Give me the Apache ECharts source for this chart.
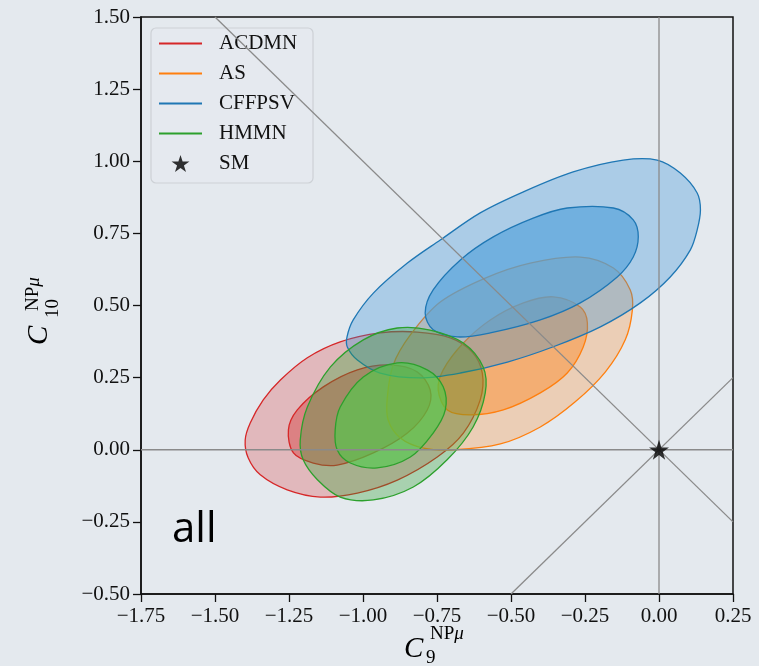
<!DOCTYPE html>
<html><head><meta charset="utf-8">
<script src="https://cdn.jsdelivr.net/npm/echarts@6/dist/echarts.min.js"></script>
<style>html,body{margin:0;padding:0;background:#e4e9ee;}#c{width:759px;height:666px;}</style>
</head><body><div id="c"></div>
<script>
// ---------- data ----------
const xRange = [-1.75, 0.25];
const yRange = [-0.5, 1.5];
const tickStep = 0.25;
const groupNames = ['ACDMN', 'AS', 'CFFPSV', 'HMMN'];

const acdmnOuter = [[-1.398,0.034],[-1.381,0.093],[-1.337,0.173],[-1.279,0.242],[-1.188,0.319],[-1.077,0.374],[-0.942,0.405],[-0.817,0.408],[-0.705,0.388],[-0.631,0.339],[-0.597,0.266],[-0.604,0.173],[-0.661,0.058],[-0.749,-0.025],[-0.884,-0.105],[-1.019,-0.150],[-1.144,-0.164],[-1.256,-0.139],[-1.347,-0.087],[-1.388,-0.028]];
const acdmnInner = [[-1.252,0.069],[-1.222,0.138],[-1.134,0.218],[-1.019,0.277],[-0.908,0.294],[-0.817,0.270],[-0.773,0.207],[-0.783,0.138],[-0.850,0.058],[-0.965,-0.011],[-1.087,-0.053],[-1.168,-0.046],[-1.235,-0.011]];
const asOuter = [[-0.266,0.668],[-0.154,0.630],[-0.097,0.554],[-0.090,0.484],[-0.114,0.381],[-0.181,0.270],[-0.283,0.166],[-0.401,0.079],[-0.536,0.020],[-0.688,0.000],[-0.796,0.006],[-0.874,0.041],[-0.915,0.103],[-0.918,0.180],[-0.898,0.294],[-0.840,0.398],[-0.739,0.512],[-0.587,0.595],[-0.435,0.647]];
const asInner = [[-0.357,0.530],[-0.266,0.495],[-0.242,0.440],[-0.256,0.356],[-0.310,0.266],[-0.401,0.197],[-0.526,0.138],[-0.637,0.121],[-0.715,0.138],[-0.746,0.207],[-0.729,0.277],[-0.661,0.370],[-0.570,0.450],[-0.458,0.509]];
const cffpsvOuter = [[-1.053,0.356],[-1.054,0.391],[-1.033,0.450],[-0.965,0.543],[-0.850,0.647],[-0.739,0.727],[-0.604,0.821],[-0.458,0.894],[-0.290,0.963],[-0.121,1.004],[-0.006,1.004],[0.072,0.959],[0.129,0.890],[0.140,0.831],[0.129,0.762],[0.106,0.693],[0.038,0.599],[-0.063,0.509],[-0.198,0.426],[-0.357,0.357],[-0.512,0.304],[-0.671,0.266],[-0.806,0.249],[-0.942,0.266],[-1.019,0.311]];
const cffpsvInner = [[-0.790,0.474],[-0.763,0.554],[-0.671,0.658],[-0.560,0.738],[-0.425,0.803],[-0.310,0.838],[-0.154,0.838],[-0.087,0.797],[-0.070,0.738],[-0.087,0.668],[-0.141,0.599],[-0.266,0.509],[-0.401,0.450],[-0.570,0.405],[-0.681,0.391],[-0.763,0.416]];
const hmmnOuter = [[-1.212,0.034],[-1.188,0.148],[-1.110,0.287],[-0.999,0.381],[-0.884,0.422],[-0.773,0.415],[-0.661,0.370],[-0.594,0.287],[-0.587,0.197],[-0.628,0.079],[-0.715,-0.034],[-0.830,-0.129],[-0.965,-0.174],[-1.077,-0.164],[-1.154,-0.104],[-1.202,-0.035]];
const hmmnInner = [[-1.094,0.069],[-1.077,0.148],[-0.999,0.252],[-0.884,0.301],[-0.783,0.277],[-0.729,0.218],[-0.722,0.138],[-0.763,0.058],[-0.840,-0.025],[-0.952,-0.063],[-1.043,-0.046],[-1.087,-0.001]];

const smPoint = [[0, 0]];
const lineNegDiag = [[-1.5, 1.5], [0.25, -0.25]];
const linePosDiag = [[-0.5, -0.5], [0.25, 0.25]];
const lineVertical = [[0, -0.5], [0, 1.5]];
const lineHorizontal = [[-1.75, 0], [0.25, 0]];

// ---------- styles ----------
const contours = {
  ACDMN: [acdmnOuter, acdmnInner],
  AS: [asOuter, asInner],
  CFFPSV: [cffpsvOuter, cffpsvInner],
  HMMN: [hmmnOuter, hmmnInner]
};
const styleMap = {
  ACDMN:  {edge:'#d62728', fills:['rgba(214,39,40,0.25)','rgba(214,39,40,0.38)']},
  AS:     {edge:'#ff7f0e', fills:['rgba(255,127,14,0.25)','rgba(255,127,14,0.40)']},
  CFFPSV: {edge:'#1f77b4', fills:['rgba(40,140,215,0.30)','rgba(81,161,218,0.65)']},
  HMMN:   {edge:'#2ca02c', fills:['rgba(44,160,44,0.32)','rgba(77,206,73,0.60)']}
};
const starPath = 'path://M0,-10L2.245,-3.09L9.511,-3.09L3.633,1.18L5.878,8.09L0,3.82L-5.878,8.09L-3.633,1.18L-9.511,-3.09L-2.245,-3.09Z';
const legendLine = 'path://M0,0L43,0L43,1.8L0,1.8Z';
const serif = '"Liberation Serif", "DejaVu Serif", serif';
const fmt = v => (v < -1e-9 ? '\u2212' : '') + Math.abs(v).toFixed(2);

const chart = echarts.init(document.getElementById('c'), null, {renderer:'canvas'});

const contourSeries = groupNames.map(name => ({
  type: 'custom', name: name, coordinateSystem: 'cartesian2d', clip: true, silent: true,
  itemStyle: {color: styleMap[name].edge},
  data: contours[name].map(c => c[0]),
  renderItem: (params, api) => {
    const poly = contours[name][params.dataIndex];
    const pts = poly.map(p => api.coord(p));
    return {
      type: 'polygon',
      shape: {points: pts, smooth: 0.33},
      style: {fill: styleMap[name].fills[params.dataIndex], stroke: styleMap[name].edge, lineWidth: 1.3}
    };
  }
}));

const refLine = d => ({
  type: 'line', data: d, symbol: 'none', silent: true, z: 5,
  lineStyle: {color: '#8a8a8a', width: 1.3}, animation: false
});

chart.setOption({
  animation: false,
  backgroundColor: '#e4e9ee',
  grid: {left: 141, right: 26, top: 17, bottom: 72, show: true, borderColor: '#111', borderWidth: 1.5, backgroundColor: 'transparent'},
  xAxis: {
    type: 'value', min: xRange[0], max: xRange[1], interval: tickStep,
    axisLine: {show: true, onZero: false, lineStyle: {color: '#111', width: 1.5}},
    axisTick: {show: true, length: 8, lineStyle: {color: '#111', width: 1.3}},
    splitLine: {show: false},
    axisLabel: {fontFamily: serif, fontSize: 21, lineHeight: 21, color: '#111', margin: 12, formatter: fmt, showMinLabel: true, showMaxLabel: true}
  },
  yAxis: {
    type: 'value', min: yRange[0], max: yRange[1], interval: tickStep,
    axisLine: {show: true, onZero: false, lineStyle: {color: '#111', width: 1.5}},
    axisTick: {show: true, length: 8, lineStyle: {color: '#111', width: 1.3}},
    splitLine: {show: false},
    axisLabel: {fontFamily: serif, fontSize: 21, color: '#111', margin: 11, formatter: fmt, showMinLabel: true, showMaxLabel: true}
  },
  legend: {
    orient: 'vertical', left: 151, top: 28, selectedMode: false,
    itemWidth: 43, itemHeight: 17, itemGap: 9,
    padding: [5, 9, 9, 8],
    backgroundColor: 'rgba(229,233,238,0.85)', borderColor: '#cdd1d6', borderWidth: 1.2, borderRadius: 5,
    textStyle: {fontFamily: serif, fontSize: 21, lineHeight: 20, color: '#111', padding: [0, 0, 0, 12], width: 85},
    data: groupNames.map(n => ({name: n, icon: legendLine, itemStyle: {color: styleMap[n].edge, borderWidth: 0}}))
      .concat([{name: 'SM', icon: starPath, itemStyle: {color: '#000', borderWidth: 0}}])
  },
  series: contourSeries.concat([
    refLine(lineNegDiag), refLine(linePosDiag), refLine(lineVertical), refLine(lineHorizontal),
    {type: 'scatter', name: 'SM', data: smPoint, symbol: starPath, symbolSize: 20, z: 10, silent: true,
     itemStyle: {color: '#000'}}
  ]),
  graphic: [
    {type: 'text', x: 172, y: 530, silent: true,
     style: {text: 'all', fontFamily: '"Open Sans", Lato, sans-serif', fontSize: 42, fill: '#000', verticalAlign: 'middle'}},
    {type: 'group', x: 404, y: 649, silent: true, children: [
      {type: 'text', x: 0, y: 0, style: {text: 'C', fontFamily: serif, fontStyle: 'italic', fontSize: 29, fill: '#000', verticalAlign: 'middle'}},
      {type: 'text', x: 22, y: 9, style: {text: '9', fontFamily: serif, fontSize: 19, fill: '#000', verticalAlign: 'middle'}},
      {type: 'text', x: 26, y: -15, style: {text: '{a|NP}{b|\u03bc}', fontFamily: serif, fontSize: 19, fill: '#000', verticalAlign: 'middle',
        rich: {a: {fontFamily: serif, fontSize: 19, fill: '#000'}, b: {fontFamily: serif, fontStyle: 'italic', fontSize: 19, fill: '#000'}}}}
    ]},
    {type: 'group', x: 39.5, y: 345, rotation: Math.PI / 2, silent: true, children: [
      {type: 'text', x: 0, y: 0, style: {text: 'C', fontFamily: serif, fontStyle: 'italic', fontSize: 29, fill: '#000', verticalAlign: 'middle'}},
      {type: 'text', x: 27, y: 14, style: {text: '10', fontFamily: serif, fontSize: 19, fill: '#000', verticalAlign: 'middle'}},
      {type: 'text', x: 34, y: -6, style: {text: '{a|NP}{b|\u03bc}', fontFamily: serif, fontSize: 19, fill: '#000', verticalAlign: 'middle',
        rich: {a: {fontFamily: serif, fontSize: 19, fill: '#000'}, b: {fontFamily: serif, fontStyle: 'italic', fontSize: 19, fill: '#000'}}}}
    ]}
  ]
});
</script>
</body></html>
